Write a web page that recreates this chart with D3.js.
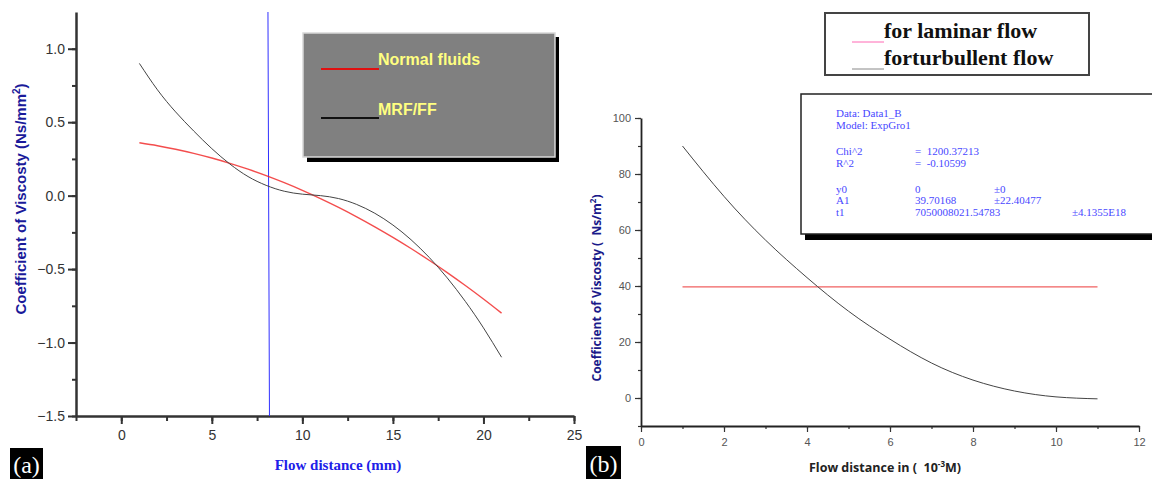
<!DOCTYPE html>
<html>
<head>
<meta charset="utf-8">
<script src="https://cdn.jsdelivr.net/npm/d3@7"></script>
<style>
  body { margin: 0; background: #fff; }
  svg { display: block; }
</style>
</head>
<body>
<div id="chart"></div>
<script>
// Panel (a) data
var distA = [1, 2, 3, 4, 5, 6, 7, 8, 9, 10, 11, 12, 13, 14, 15, 16, 17, 18, 19, 20, 21];
var normalFluids = [0.36, 0.34, 0.316, 0.288, 0.256, 0.22, 0.18, 0.136, 0.088, 0.036, -0.02, -0.08, -0.144, -0.212, -0.284, -0.36, -0.44, -0.524, -0.612, -0.704, -0.80];
var mrfFF = [0.90, 0.72, 0.57, 0.44, 0.32, 0.215, 0.13, 0.07, 0.03, 0.01, 0.0, -0.02, -0.06, -0.12, -0.20, -0.30, -0.42, -0.56, -0.72, -0.90, -1.10];
var blueLineX = 8.1;
var xTicksA = [0, 5, 10, 15, 20, 25];
var yTicksA = [-1.5, -1.0, -0.5, 0.0, 0.5, 1.0];

// Panel (b) data
var distB = [1, 2, 3, 4, 5, 6, 7, 8, 9, 10, 11];
var laminar = [39.7, 39.7, 39.7, 39.7, 39.7, 39.7, 39.7, 39.7, 39.7, 39.7, 39.7];
var turbulent = [90, 72, 56.4, 43, 31, 21, 12.5, 6.4, 2.5, 0.4, -0.3];
var xTicksB = [0, 2, 4, 6, 8, 10, 12];
var yTicksB = [0, 20, 40, 60, 80, 100];

// Fit report text (b)
var fitLabels = ["Data: Data1_B", "Model: ExpGro1", "", "Chi^2", "R^2", "", "y0", "A1", "t1"];
var fitValues = ["", "", "", "=  1200.37213", "=  -0.10599", "", "0", "39.70168", "7050008021.54783"];
var fitErrors = ["", "", "", "", "", "", "±0", "±22.40477", ""];

var svg = d3.select("#chart").append("svg")
    .attr("width", 1152)
    .attr("height", 479);

// ---------- panel (a) ----------
var xA = d3.scaleLinear().domain([-2.5, 25]).range([76, 574]);
var yA = d3.scaleLinear().domain([-1.5, 1.25]).range([416, 12]);

var gA = svg.append("g");

// minor ticks
gA.append("g")
    .attr("transform", "translate(0,416)")
    .call(d3.axisBottom(xA).tickValues(d3.range(-2.5, 25.1, 2.5)).tickSize(5).tickSizeOuter(0).tickFormat(""))
    .call(g => g.selectAll("line").attr("stroke", "#333").attr("stroke-width", 2))
    .call(g => g.select(".domain").remove());
gA.append("g")
    .attr("transform", "translate(76,0)")
    .call(d3.axisLeft(yA).tickValues(d3.range(-1.5, 1.01, 0.25)).tickSize(4).tickSizeOuter(0).tickFormat(""))
    .call(g => g.selectAll("line").attr("stroke", "#333").attr("stroke-width", 2))
    .call(g => g.select(".domain").remove());

// major ticks
gA.append("g")
    .attr("transform", "translate(0,416)")
    .call(d3.axisBottom(xA).tickValues(xTicksA).tickSize(8).tickSizeOuter(0).tickPadding(6).tickFormat(d3.format("d")))
    .call(g => g.select(".domain").attr("stroke", "#333").attr("stroke-width", 2.5))
    .call(g => g.selectAll("line").attr("stroke", "#333").attr("stroke-width", 2))
    .call(g => g.selectAll("text").attr("fill", "#333").style("font", "14px Arial, 'Liberation Sans', sans-serif"));
gA.append("g")
    .attr("transform", "translate(76,0)")
    .call(d3.axisLeft(yA).tickValues(yTicksA).tickSize(8).tickSizeOuter(0).tickPadding(3).tickFormat(d3.format(".1f")))
    .call(g => g.select(".domain").attr("stroke", "#333").attr("stroke-width", 2.5))
    .call(g => g.selectAll("line").attr("stroke", "#333").attr("stroke-width", 2))
    .call(g => g.selectAll("text").attr("fill", "#333").style("font", "14px Arial, 'Liberation Sans', sans-serif"));

// blue vertical line
gA.append("line")
    .attr("x1", xA(blueLineX)).attr("x2", xA(blueLineX) + 1.5)
    .attr("y1", yA(1.25)).attr("y2", yA(-1.5))
    .attr("stroke", "#3030ff").attr("stroke-width", 1);

var lineA = d3.line()
    .x(function (d, i) { return xA(distA[i]); })
    .y(function (d) { return yA(d); })
    .curve(d3.curveNatural);

gA.append("path")
    .attr("d", lineA(normalFluids))
    .attr("fill", "none").attr("stroke", "#f02020").attr("stroke-width", 1.4).attr("stroke-opacity", 0.8);
gA.append("path")
    .attr("d", lineA(mrfFF))
    .attr("fill", "none").attr("stroke", "#444").attr("stroke-width", 1);

// legend (a)
var legA = gA.append("g");
legA.append("rect").attr("x", 307).attr("y", 37).attr("width", 252).attr("height", 125).attr("fill", "#000");
legA.append("rect").attr("x", 303).attr("y", 33).attr("width", 252).attr("height", 124).attr("fill", "#808080")
    .attr("stroke", "#d8d8d8").attr("stroke-width", 1.5);
legA.append("line").attr("x1", 321).attr("x2", 379).attr("y1", 69).attr("y2", 69).attr("stroke", "#e01010").attr("stroke-width", 2);
legA.append("line").attr("x1", 321).attr("x2", 379).attr("y1", 118).attr("y2", 118).attr("stroke", "#111").attr("stroke-width", 2);
legA.append("text").attr("x", 378).attr("y", 65).text("Normal fluids")
    .attr("fill", "#ffff80").style("font", "bold 16px Arial, 'Liberation Sans', sans-serif");
legA.append("text").attr("x", 378).attr("y", 115).text("MRF/FF")
    .attr("fill", "#ffff80").style("font", "bold 16px Arial, 'Liberation Sans', sans-serif");

// axis titles (a)
var yTitleA = gA.append("text")
    .attr("transform", "translate(26,199) rotate(-90)")
    .attr("text-anchor", "middle")
    .attr("fill", "#1a1a9a")
    .style("font", "bold 15px Arial, 'Liberation Sans', sans-serif");
yTitleA.append("tspan").text("Coefficient of Viscosty (Ns/mm");
yTitleA.append("tspan").attr("dy", -6).style("font-size", "10px").text("2");
yTitleA.append("tspan").attr("dy", 6).text(")");

gA.append("text")
    .attr("x", 338).attr("y", 470)
    .attr("text-anchor", "middle")
    .attr("fill", "#2020e8")
    .style("font", "bold 15px 'Liberation Serif', 'Times New Roman', serif")
    .text("Flow distance (mm)");

// label (a)
gA.append("rect").attr("x", 10).attr("y", 448).attr("width", 33).attr("height", 31).attr("fill", "#000");
gA.append("text").attr("x", 26.5).attr("y", 473).attr("text-anchor", "middle")
    .attr("fill", "#fff").style("font", "24px 'Liberation Serif', 'Times New Roman', serif").text("(a)");

// ---------- panel (b) ----------
var xB = d3.scaleLinear().domain([0, 12]).range([641, 1139]);
var yB = d3.scaleLinear().domain([-10, 100]).range([426, 118]);

var gB = svg.append("g");

gB.append("g")
    .attr("transform", "translate(0,426)")
    .call(d3.axisBottom(xB).tickValues(d3.range(0, 12.1, 1)).tickSize(3).tickSizeOuter(0).tickFormat(""))
    .call(g => g.selectAll("line").attr("stroke", "#333").attr("stroke-width", 1.2))
    .call(g => g.select(".domain").remove());
gB.append("g")
    .attr("transform", "translate(641,0)")
    .call(d3.axisLeft(yB).tickValues(d3.range(-10, 100.1, 10)).tickSize(3).tickSizeOuter(0).tickFormat(""))
    .call(g => g.selectAll("line").attr("stroke", "#333").attr("stroke-width", 1.2))
    .call(g => g.select(".domain").remove());

gB.append("g")
    .attr("transform", "translate(0,426)")
    .call(d3.axisBottom(xB).tickValues(xTicksB).tickSize(6).tickSizeOuter(0).tickPadding(6).tickFormat(d3.format("d")))
    .call(g => g.select(".domain").attr("stroke", "#222").attr("stroke-width", 1.8))
    .call(g => g.selectAll("line").attr("stroke", "#333").attr("stroke-width", 1.2))
    .call(g => g.selectAll("text").attr("fill", "#555").style("font", "11px Arial, 'Liberation Sans', sans-serif"));
gB.append("g")
    .attr("transform", "translate(641,0)")
    .call(d3.axisLeft(yB).tickValues(yTicksB).tickSize(6).tickSizeOuter(0).tickPadding(4).tickFormat(d3.format("d")))
    .call(g => g.select(".domain").attr("stroke", "#222").attr("stroke-width", 1.8))
    .call(g => g.selectAll("line").attr("stroke", "#333").attr("stroke-width", 1.2))
    .call(g => g.selectAll("text").attr("fill", "#555").style("font", "11px Arial, 'Liberation Sans', sans-serif"));

var lineB = d3.line()
    .x(function (d, i) { return xB(distB[i]); })
    .y(function (d) { return yB(d); })
    .curve(d3.curveNatural);

gB.append("path")
    .attr("d", lineB(laminar))
    .attr("fill", "none").attr("stroke", "#f06060").attr("stroke-width", 1.2);
gB.append("path")
    .attr("d", lineB(turbulent))
    .attr("fill", "none").attr("stroke", "#444").attr("stroke-width", 1);

// legend (b)
var legB = gB.append("g");
legB.append("rect").attr("x", 825).attr("y", 13).attr("width", 264).attr("height", 62)
    .attr("fill", "#fff").attr("stroke", "#444").attr("stroke-width", 2);
legB.append("line").attr("x1", 852).attr("x2", 884).attr("y1", 42).attr("y2", 42).attr("stroke", "#ff69b4").attr("stroke-width", 1);
legB.append("line").attr("x1", 852).attr("x2", 884).attr("y1", 69).attr("y2", 69).attr("stroke", "#888").attr("stroke-width", 1);
legB.append("text").attr("x", 884).attr("y", 38).text("for laminar flow")
    .attr("fill", "#111").style("font", "bold 22px 'Liberation Serif', 'Times New Roman', serif");
legB.append("text").attr("x", 884).attr("y", 65).text("forturbullent flow")
    .attr("fill", "#111").style("font", "bold 22px 'Liberation Serif', 'Times New Roman', serif");

// fit report box
var fit = gB.append("g");
fit.append("rect").attr("x", 805).attr("y", 98).attr("width", 360).attr("height", 142).attr("fill", "#000");
fit.append("rect").attr("x", 801).attr("y", 94).attr("width", 360).attr("height", 140)
    .attr("fill", "#fff").attr("stroke", "#222").attr("stroke-width", 1.5);
var fitY = [117, 129, 0, 155, 167, 0, 193, 204, 216];
var fitFont = "11px 'Liberation Serif', 'Times New Roman', serif";
fitLabels.forEach(function (t, i) {
    if (t) fit.append("text").attr("x", 836).attr("y", fitY[i]).attr("fill", "#4848ff").style("font", fitFont).text(t);
    if (fitValues[i]) fit.append("text").attr("x", 915).attr("y", fitY[i]).attr("fill", "#4848ff").style("font", fitFont)
        .style("white-space", "pre").attr("xml:space", "preserve").text(fitValues[i]);
    if (fitErrors[i]) fit.append("text").attr("x", 994).attr("y", fitY[i]).attr("fill", "#4848ff").style("font", fitFont).text(fitErrors[i]);
});
fit.append("text").attr("x", 1072).attr("y", 216).attr("fill", "#4848ff")
    .style("font", fitFont).text("±4.1355E18");

// axis titles (b)
var yTitleB = gB.append("text")
    .attr("transform", "translate(601,288) rotate(-90)")
    .attr("text-anchor", "middle")
    .attr("fill", "#1a1a8a")
    .attr("xml:space", "preserve")
    .style("white-space", "pre")
    .style("font", "bold 12px 'Open Sans', Arial, sans-serif");
yTitleB.append("tspan").text("Coefficient of Viscosty (  Ns/m");
yTitleB.append("tspan").attr("dy", -5).style("font-size", "8px").text("2");
yTitleB.append("tspan").attr("dy", 5).text(")");

var xTitleB = gB.append("text")
    .attr("x", 885).attr("y", 472)
    .attr("text-anchor", "middle")
    .attr("fill", "#222")
    .attr("xml:space", "preserve")
    .style("white-space", "pre")
    .style("font", "bold 12.5px 'Open Sans', Arial, sans-serif");
xTitleB.append("tspan").text("Flow distance in (  10");
xTitleB.append("tspan").attr("dy", -5).style("font-size", "8px").text("-3");
xTitleB.append("tspan").attr("dy", 5).text("M)");

// label (b)
gB.append("rect").attr("x", 586).attr("y", 446).attr("width", 35).attr("height", 33).attr("fill", "#000");
gB.append("text").attr("x", 603.5).attr("y", 472).attr("text-anchor", "middle")
    .attr("fill", "#fff").style("font", "24px 'Liberation Serif', 'Times New Roman', serif").text("(b)");
</script>
</body>
</html>
